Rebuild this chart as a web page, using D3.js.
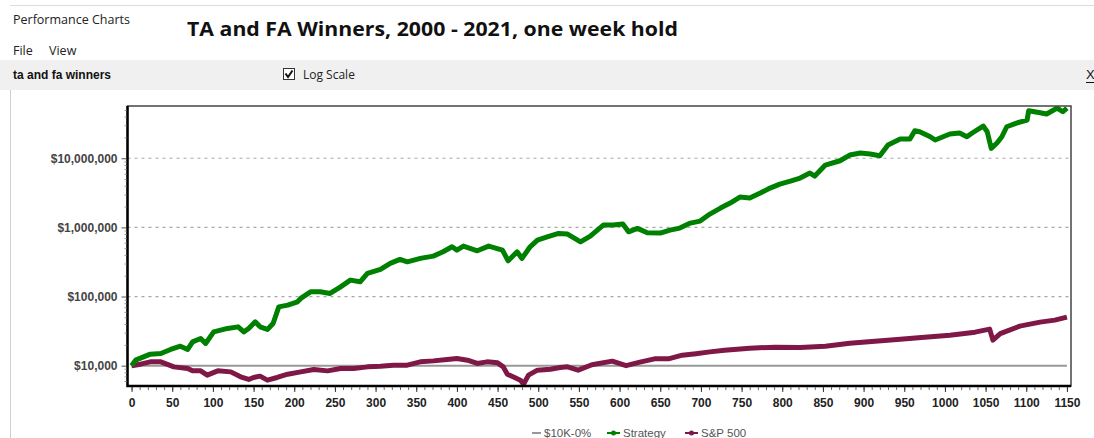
<!DOCTYPE html>
<html>
<head>
<meta charset="utf-8">
<script src="https://cdnjs.cloudflare.com/ajax/libs/d3/7.8.5/d3.min.js"></script>
<style>
body { margin: 0; background: #fff; }
svg { display: block; font-family: "Liberation Sans", Arial, sans-serif; }
</style>
</head>
<body>
<svg id="chart" width="1094" height="438"></svg>
<script>
// week number, equity in dollars
var strategy = [[0,10000],[5,12010],[11,12840],[23,14670],[36,15020],[48,17160],[60,19150],[69,17160],[75,22110],
  [85,24760],[91,20960],[101,30840],[118,34540],[131,36430],[138,30840],[144,34540],[152,43030],[158,36430],
  [167,33410],[174,40790],[181,70950],[192,75080],[204,83830],[208,93870],[220,116950],[232,116950],[244,110900],
  [257,138100],[269,172700],[281,163200],[290,215900],[306,246700],[318,301300],[330,344300],[339,317800],
  [355,355900],[371,384300],[383,443700],[394,524000],[400,469500],[408,536300],[425,458600],[439,536300],
  [456,469500],[463,328600],[474,443700],[480,355900],[490,524000],[499,655000],[511,731100],[525,818900],
  [536,799900],[552,618800],[564,748300],[580,1079700],[592,1079700],[604,1116300],[611,863600],[622,967200],
  [634,835300],[650,827000],[662,914100],[674,977000],[687,1154000],[699,1234000],[711,1558000],[724,1903000],
  [736,2247000],[748,2745000],[760,2655000],[773,3136000],[785,3705000],[797,4233000],[810,4677000],
  [822,5170000],[834,6107000],[840,5526000],[853,7973000],[871,9200000],[883,11130000],[896,11890000],
  [908,11500000],[920,10870000],[930,15520000],[945,18960000],[957,18960000],[963,25000000],[969,24180000],
  [982,20470000],[988,18340000],[994,19600000],[1006,22400000],[1018,23160000],[1027,20470000],[1034,23390000],
  [1047,29240000],[1052,24180000],[1057,13910000],[1064,16600000],[1070,20470000],[1076,28570000],
  [1088,32310000],[1101,35710000],[1103,48690000],[1117,45540000],[1125,43610000],[1138,53260000],
  [1145,47100000],[1150,53260000]];

var sp500 = [[0,10000],[11,10510],[23,11350],[36,11350],[52,9610],[69,9110],[75,8410],[85,8410],[93,7290],
  [106,8410],[122,8130],[134,6890],[144,6310],[150,6750],[158,7050],[167,6170],[179,6750],[192,7530],
  [208,8130],[224,8810],[241,8410],[257,9110],[273,9110],[290,9610],[306,9830],[322,10170],[339,10170],
  [355,11350],[371,11730],[388,12300],[400,12710],[413,12010],[425,10760],[437,11350],[450,10980],[457,9610],
  [462,7530],[469,6890],[478,6170],[482,5400],[488,7290],[499,8610],[515,8900],[527,9390],[536,9610],
  [549,8610],[566,10300],[591,11620],[608,10000],[625,11240],[643,12540],[660,12540],[677,14190],[694,14920],
  [711,15840],[729,16760],[760,17920],[791,18520],[822,18300],[853,19150],[883,21170],[914,22620],[945,24180],
  [975,25850],[1006,27630],[1037,30530],[1055,33750],[1059,23390],[1068,29050],[1092,37290],[1117,42610],
  [1135,45540],[1150,50340]];

var base = [[0,10000],[1150,10000]];

var xTicks = d3.range(0, 1151, 50);
var xMinor = d3.range(0, 1151, 10);
var yTicks = [10000, 100000, 1000000, 10000000];
var legendLabels = ["$10K-0%", "Strategy", "S&P 500"];
var colors = ["#999999", "#008000", "#7f1846"];

var svg = d3.select("#chart");

// window chrome
svg.append("rect").attr("width", 1094).attr("height", 438).attr("fill", "#fff");
svg.append("line").attr("x1", 10).attr("x2", 1094).attr("y1", 5.5).attr("y2", 5.5).attr("stroke", "#dcdcdc");
svg.append("rect").attr("x", 0).attr("y", 60).attr("width", 1094).attr("height", 30).attr("fill", "#f0f0f0");
svg.append("line").attr("x1", 10.5).attr("x2", 10.5).attr("y1", 90).attr("y2", 438).attr("stroke", "#d0d0d0");

svg.append("text").attr("x", 13).attr("y", 24).text("Performance Charts")
  .attr("font-family", "'Open Sans', 'Noto Sans', sans-serif").attr("font-size", 12.5).attr("fill", "#222");
svg.append("text").attr("x", 187).attr("y", 36).text("TA and FA Winners, 2000 - 2021, one week hold")
  .attr("font-family", "'Open Sans', 'Noto Sans', sans-serif").attr("font-weight", "bold")
  .attr("font-size", 20).attr("textLength", 491).attr("lengthAdjust", "spacingAndGlyphs").attr("fill", "#111");
svg.append("text").attr("x", 13).attr("y", 55).text("File")
  .attr("font-family", "'Open Sans', 'Noto Sans', sans-serif").attr("font-size", 12.5).attr("fill", "#222");
svg.append("text").attr("x", 49).attr("y", 55).text("View")
  .attr("font-family", "'Open Sans', 'Noto Sans', sans-serif").attr("font-size", 12.5).attr("fill", "#222");
svg.append("text").attr("x", 13).attr("y", 79).text("ta and fa winners")
  .attr("font-weight", "bold").attr("font-size", 12).attr("fill", "#111");

// checkbox
svg.append("rect").attr("x", 283.5).attr("y", 68.5).attr("width", 11).attr("height", 11)
  .attr("fill", "#fff").attr("stroke", "#333");
svg.append("path").attr("d", "M285.5,73.5 L288,77 L292.5,70.5").attr("fill", "none")
  .attr("stroke", "#111").attr("stroke-width", 2);
svg.append("text").attr("x", 303).attr("y", 79).text("Log Scale")
  .attr("font-family", "'Open Sans', 'Noto Sans', sans-serif").attr("font-size", 12).attr("fill", "#222");
svg.append("text").attr("x", 1086).attr("y", 79).text("X")
  .attr("font-size", 13).attr("fill", "#111");
svg.append("line").attr("x1", 1086).attr("x2", 1094).attr("y1", 82.5).attr("y2", 82.5).attr("stroke", "#111");

// plot area
var plotLeft = 127.5, plotRight = 1071, plotTop = 106, plotBottom = 386;

var x = d3.scaleLinear().domain([-5, 1155]).range([plotLeft, plotRight]);
var y = d3.scaleLog().domain([5080, 57000000]).range([plotBottom, plotTop]);

// grid
svg.append("g").selectAll("line").data(yTicks.slice(1)).enter().append("line")
  .attr("x1", plotLeft).attr("x2", plotRight)
  .attr("y1", d => y(d)).attr("y2", d => y(d))
  .attr("stroke", "#a8a8a8").attr("stroke-width", 1.2).attr("stroke-dasharray", "3,4");

svg.append("defs").append("clipPath").attr("id", "clip")
  .append("rect").attr("x", plotLeft).attr("y", plotTop)
  .attr("width", plotRight - plotLeft).attr("height", plotBottom - plotTop);

var line = d3.line().x(d => x(d[0])).y(d => y(d[1]));

var plot = svg.append("g").attr("clip-path", "url(#clip)");
plot.append("path").datum(base).attr("d", line).attr("fill", "none")
  .attr("stroke", colors[0]).attr("stroke-width", 2);
plot.append("path").datum(sp500).attr("d", line).attr("fill", "none")
  .attr("stroke", colors[2]).attr("stroke-width", 5).attr("stroke-linejoin", "round");
plot.append("path").datum(strategy).attr("d", line).attr("fill", "none")
  .attr("stroke", colors[1]).attr("stroke-width", 5).attr("stroke-linejoin", "round");

// frame
svg.append("rect").attr("x", plotLeft).attr("y", plotTop)
  .attr("width", plotRight - plotLeft).attr("height", plotBottom - plotTop)
  .attr("fill", "none").attr("stroke", "#444").attr("stroke-width", 1.5);
svg.append("path").attr("d", "M" + plotLeft + "," + plotTop + "V" + plotBottom + "H" + plotRight)
  .attr("fill", "none").attr("stroke", "#000").attr("stroke-width", 2.5);

// x axis
var xAxisMinor = svg.append("g").attr("transform", "translate(0," + (plotBottom + 1) + ")")
  .call(d3.axisBottom(x).tickValues(xMinor).tickSize(3).tickFormat(""));
xAxisMinor.select(".domain").remove();
xAxisMinor.selectAll("line").attr("stroke", "#666");

var xAxis = svg.append("g").attr("transform", "translate(0," + (plotBottom + 1) + ")")
  .call(d3.axisBottom(x).tickValues(xTicks).tickSize(5).tickPadding(6).tickFormat(d3.format("d")));
xAxis.select(".domain").remove();
xAxis.selectAll("line").attr("stroke", "#333");
xAxis.selectAll("text").attr("font-family", "'Liberation Sans', Arial, sans-serif")
  .attr("font-weight", "bold").attr("font-size", 12).attr("fill", "#222");

// y axis
var yMinor = [6000, 7000, 8000, 9000];
yTicks.forEach(function(t) { for (var k = 2; k < 10; k++) yMinor.push(t * k); });
var yAxisMinor = svg.append("g").attr("transform", "translate(" + (plotLeft - 1) + ",0)")
  .call(d3.axisLeft(y).tickValues(yMinor.filter(v => v < 57000000)).tickSize(2).tickFormat(""));
yAxisMinor.select(".domain").remove();
yAxisMinor.selectAll("line").attr("stroke", "#999");

var yAxis = svg.append("g").attr("transform", "translate(" + (plotLeft - 1) + ",0)")
  .call(d3.axisLeft(y).tickValues(yTicks).tickSize(5).tickPadding(4)
    .tickFormat(d => "$" + d3.format(",")(d)));
yAxis.select(".domain").remove();
yAxis.selectAll("line").attr("stroke", "#555");
yAxis.selectAll("text").attr("font-family", "'Liberation Sans', Arial, sans-serif")
  .attr("font-weight", "bold").attr("font-size", 12).attr("fill", "#444");

// legend
var legendX = [532, 607, 685];
var legend = svg.append("g");
legendLabels.forEach(function(lab, i) {
  var g = legend.append("g").attr("transform", "translate(" + legendX[i] + ",433)");
  g.append("line").attr("x1", 0).attr("x2", i == 0 ? 9 : 13).attr("y1", 0).attr("y2", 0)
    .attr("stroke", colors[i]).attr("stroke-width", 2);
  if (i > 0) g.append("circle").attr("cx", 6.5).attr("cy", 0).attr("r", 2.5).attr("fill", colors[i]);
  g.append("text").attr("x", i == 0 ? 12 : 16).attr("y", 4).text(lab)
    .attr("font-size", 11.5).attr("fill", "#555");
});
</script>
</body>
</html>
